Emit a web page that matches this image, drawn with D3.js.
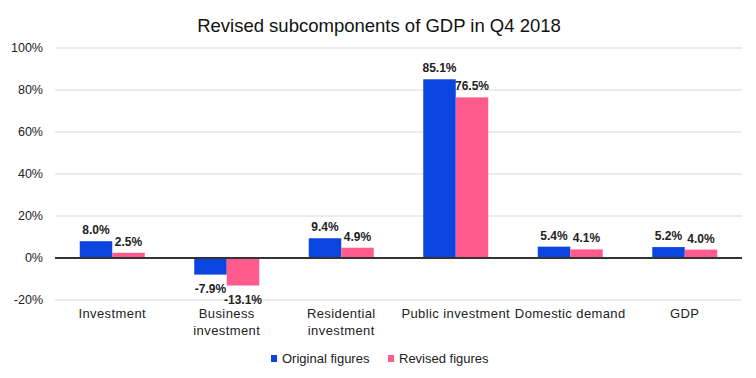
<!DOCTYPE html>
<html><head><meta charset="utf-8">
<script src="https://cdn.jsdelivr.net/npm/d3@7"></script>
<style>body{margin:0;background:#fff;}svg{display:block;font-family:"Liberation Sans",Arial,sans-serif;}</style>
</head><body><svg id="c" width="756" height="378"></svg>
<script>
const categories = [["Investment"],["Business","investment"],["Residential","investment"],["Public investment"],["Domestic demand"],["GDP"]];
const original = [8.0, -7.9, 9.4, 85.1, 5.4, 5.2];
const revised = [2.5, -13.1, 4.9, 76.5, 4.1, 4.0];
const seriesNames = ["Original figures","Revised figures"];
const colors = ["#0b45e0","#ff5c8d"];
const yTicks = [-20,0,20,40,60,80,100];

const svg = d3.select("#c");
const m = {l:55, r:742, t:48, b:300};
const x = d3.scaleBand().domain(d3.range(categories.length)).range([m.l,m.r]);
const y = d3.scaleLinear().domain([-20,100]).range([m.b,m.t]);
const x1 = d3.scaleBand().domain([0,1]).range([0,65]);

svg.append("text").attr("x",379).attr("y",32).attr("text-anchor","middle")
  .attr("font-size",18.5).attr("fill","#111").text("Revised subcomponents of GDP in Q4 2018");

const grid = svg.append("g");
grid.selectAll("line").data(yTicks.filter(d=>d!==0)).join("line")
  .attr("x1",m.l).attr("x2",m.r).attr("y1",d=>y(d)).attr("y2",d=>y(d))
  .attr("stroke","#d9d9d9").attr("stroke-width",1);
svg.append("g").selectAll("text").data(yTicks).join("text")
  .attr("x",43).attr("y",d=>y(d)+4).attr("text-anchor","end").attr("font-size",12.5).attr("fill","#222")
  .text(d=>d+"%");

const series = [original, revised];
series.forEach((vals,si)=>{
  const g = svg.append("g");
  g.selectAll("rect").data(vals).join("rect")
    .attr("x",(d,i)=>x(i)+(x.bandwidth()-65)/2+x1(si))
    .attr("width",x1.bandwidth())
    .attr("y",d=>y(Math.max(0,d)))
    .attr("height",d=>Math.abs(y(d)-y(0)))
    .attr("fill",colors[si]);
  g.selectAll("text").data(vals).join("text")
    .attr("x",(d,i)=>x(i)+(x.bandwidth()-65)/2+x1(si)+x1.bandwidth()/2)
    .attr("y",d=>d>=0? y(d)-7 : y(d)+18)
    .attr("text-anchor","middle").attr("font-size",12).attr("font-weight","bold").attr("fill","#222")
    .text(d=>d.toFixed(1)+"%");
});

svg.append("line").attr("x1",m.l).attr("x2",m.r).attr("y1",y(0)).attr("y2",y(0))
  .attr("stroke","#333").attr("stroke-width",2);

const cl = svg.append("g");
categories.forEach((lines,i)=>{
  const t = cl.append("text").attr("x",x(i)+x.bandwidth()/2).attr("y",318)
    .attr("text-anchor","middle").attr("font-size",13).attr("letter-spacing",0.4).attr("fill","#222");
  lines.forEach((ln,j)=>t.append("tspan").attr("x",x(i)+x.bandwidth()/2).attr("dy",j?17:0).text(ln));
});

const leg = svg.append("g");
const legX = [271,388];
seriesNames.forEach((n,i)=>{
  leg.append("rect").attr("x",legX[i]).attr("y",355).attr("width",6).attr("height",7).attr("fill",colors[i]);
  leg.append("text").attr("x",legX[i]+11).attr("y",363).attr("font-size",13).attr("fill","#222").text(n);
});
</script></body></html>
